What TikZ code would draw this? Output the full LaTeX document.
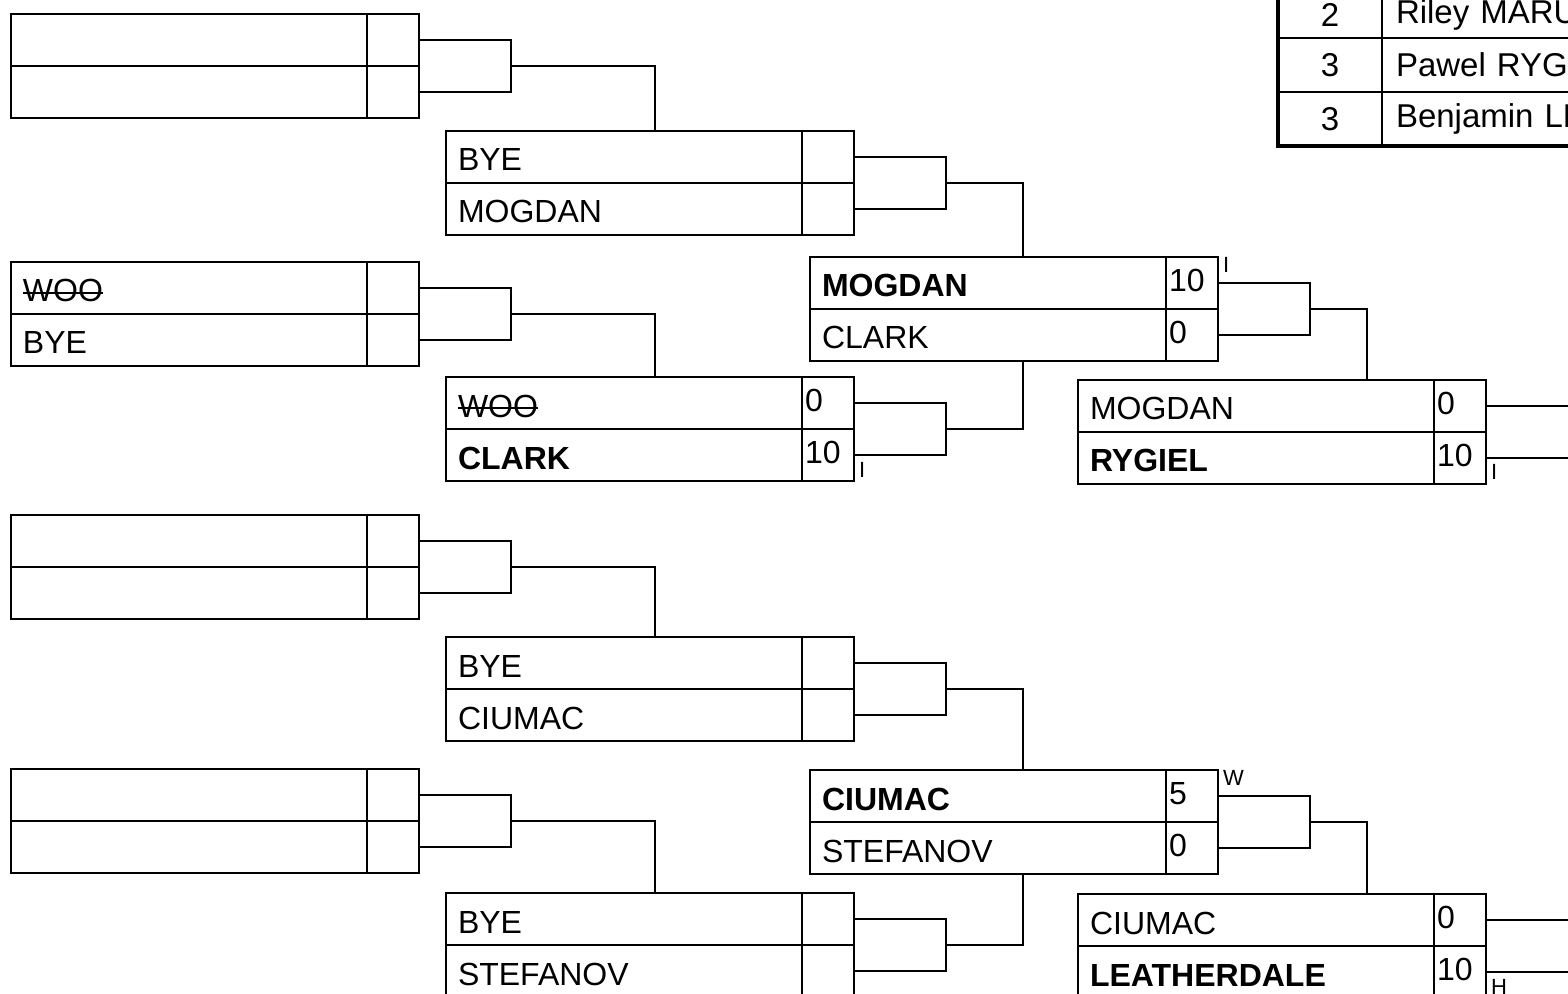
\documentclass[tikz,border=0pt]{standalone}
\usepackage{fontspec}
\setmainfont{Liberation Sans}
\usetikzlibrary{positioning}
\newlength{\strklen}
\newcommand{\strk}[1]{\settowidth{\strklen}{#1}\rlap{\rule[0.25em]{\strklen}{1pt}}#1}

\begin{document}
\begin{tikzpicture}[x=0.5pt, y=-0.5pt, line width=1pt,
    cell/.style={draw, rectangle, outer sep=0pt, inner ysep=0pt, minimum height=26pt,
      align=left, font=\fontsize{16}{19}\selectfont},
    namecell/.style={cell, inner xsep=6pt, text width=166pt, text height=14pt, text depth=0pt},
    scorecell/.style={cell, inner xsep=1.5pt, text width=23pt, text height=11.5pt, text depth=3pt},
    tag/.style={inner sep=0pt, font=\fontsize{11}{13}\selectfont},
    rankcell/.style={draw, rectangle, outer sep=0pt, inner sep=0pt, minimum width=52pt,
      minimum height=27pt, font=\fontsize{16.5}{19}\selectfont},
    playercell/.style={rankcell, inner xsep=7pt, text width=236pt, align=left}]
      \clip (0,0) rectangle (1568,994);

      % matches: top name / score, bottom name / score
      \foreach \id/\x/\y/\na/\sa/\nb/\sb in {
        a/11/14/{}/{}/{}/{},
        b/11/262/{\strk{WOO}}/{}/{BYE}/{},
        c/11/515/{}/{}/{}/{},
        d/11/769/{}/{}/{}/{},
        e/446/131/{BYE}/{}/{MOGDAN}/{},
        f/446/377/{\strk{WOO}}/{0}/{\textbf{CLARK}}/{10},
        g/446/637/{BYE}/{}/{CIUMAC}/{},
        h/446/893/{BYE}/{}/{STEFANOV}/{},
        j/810/257/{\textbf{MOGDAN}}/{10}/{CLARK}/{0},
        k/810/770/{\textbf{CIUMAC}}/{5}/{STEFANOV}/{0},
        l/1078/380/{MOGDAN}/{0}/{\textbf{RYGIEL}}/{10},
        m/1078/894/{CIUMAC}/{0}/{\textbf{LEATHERDALE}}/{10}}
      {
        \node[namecell, anchor=north west] (\id-t) at (\x,\y) {\na};
        \node[namecell, below=0pt of \id-t] (\id-b) {\nb};
        \node[scorecell, right=0pt of \id-t] (\id-ts) {\sa};
        \node[scorecell, right=0pt of \id-b] (\id-bs) {\sb};
      }

      % brackets
      \foreach \m in {a, b, c, d, e, f, g, h, j, k}
      \draw (\m-ts.east) -- ++(92,0) |- (\m-bs.east);

      % links to the next round
      \foreach \m/\n/\vx in {a/e-t.north/655, b/f-t.north/655, c/g-t.north/655,
        d/h-t.north/655, e/j-t.north/1023, f/j-b.south/1023, g/k-t.north/1023,
        h/k-b.south/1023, j/l-t.north/1367, k/m-t.north/1367}
      \draw ([xshift=46pt]\m-ts.south east) -| (\vx,0 |- \n);

      \foreach \m in {l, m}
      \draw (\m-ts.east) -- ++(100,0) (\m-bs.east) -- ++(100,0);

      \node[tag, anchor=north west] (tj) at ([xshift=2pt, yshift=0.5pt]j-ts.north east) {I};
      \node[tag, anchor=north west] (tk) at ([xshift=2pt, yshift=0.5pt]k-ts.north east) {W};
      \node[tag, anchor=south west] (tf) at ([xshift=2pt, yshift=1.5pt]f-bs.south east) {I};
      \node[tag, anchor=south west] (tl) at ([xshift=2pt, yshift=1.5pt]l-bs.south east) {I};
      \node[tag, anchor=south west] (tm) at ([xshift=2pt, yshift=1.5pt]m-bs.south east) {H};

      % standings
      \node[rankcell, anchor=north west, minimum height=23pt] (r1) at (1278,-8) {2};
      \node[rankcell, below=0pt of r1] (r2) {3};
      \node[rankcell, below=0pt of r2] (r3) {3};
      \node[playercell, right=0pt of r1, minimum height=23pt] (p1) {Riley MARU};
      \node[playercell, right=0pt of r2] (p2) {Pawel RYGIEL};
      \node[playercell, right=0pt of r3] (p3) {Benjamin LEATHERDALE};
      \draw[line width=1.75pt] (r1.north west) -- (r3.south west) -- (p3.south east);
    \end{tikzpicture}
\end{document}
